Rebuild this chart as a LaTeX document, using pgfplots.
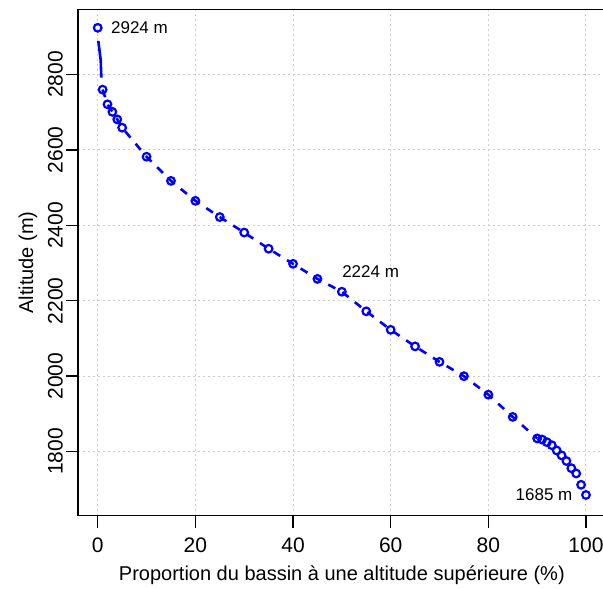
\documentclass[border=0pt]{standalone}
\usepackage{pgfplots}
\pgfplotsset{compat=1.18}
\usepackage{fontspec}
\setmainfont{Liberation Sans}

\definecolor{gridgray}{RGB}{205,205,205}

\begin{document}
\begin{tikzpicture}
  \begin{axis}[
      scale only axis,
      width=263.65pt, height=253.2pt,
      xmin=-4, xmax=104, ymin=1630, ymax=2973,
      xtick={0,20,...,100},
      ytick={1800,2000,...,2800},
      tick align=outside, tick pos=left,
      major tick length=6pt,
      every tick/.style={black, line width=0.7pt},
      axis line style={line width=0.7pt},
      grid=major,
      grid style={gridgray, line width=0.5pt, dash pattern=on 1pt off 1.5pt},
      /pgf/number format/assume math mode=true,
      /pgf/number format/set thousands separator={},
      tick label style={font=\fontsize{10.5}{12}\selectfont},
      xticklabel style={anchor=north, inner sep=5pt},
      yticklabel style={rotate=90, anchor=south, inner sep=1.45pt},
      label style={font=\fontsize{10.5}{12}\selectfont},
      every axis x label/.style={at={([yshift=-30pt]axis description cs:0.5,0)}, anchor=center},
      every axis y label/.style={at={([xshift=-25.1pt]axis description cs:0,0.5)}, anchor=center, rotate=90},
      xlabel={Proportion du bassin à une altitude supérieure (\%)},
      ylabel={Altitude (m)},
    ]
    % steep part near the summit
    \addplot[blue, line width=1.3pt, no marks] coordinates {
      (0.12,2889) (0.61,2838) (0.74,2792)
    };
    % dashed hypsometric curve
    \addplot[blue, line width=1.3pt, dash pattern=on 4pt off 4pt, no marks] coordinates {
      (1,2760) (2,2721) (3,2701) (4,2681) (5,2659)
      (10,2582) (15,2518) (20,2465) (25,2422) (30,2381)
      (35,2338) (40,2298) (45,2258) (50,2224) (55,2172)
      (60,2123) (65,2079) (70,2038) (75,2000) (80,1951)
      (85,1892) (90,1835)
    };
    \addplot[only marks, mark=o, mark size=1.9pt,
             mark options={draw=blue, fill=white, line width=1.1pt}] coordinates {
      (0,2924) (1,2760) (2,2721) (3,2701) (4,2681) (5,2659)
      (10,2582) (15,2518) (20,2465) (25,2422) (30,2381)
      (35,2338) (40,2298) (45,2258) (50,2224) (55,2172)
      (60,2123) (65,2079) (70,2038) (75,2000) (80,1951)
      (85,1892) (90,1835)
    };
    \addplot[only marks, mark=o, mark size=1.9pt,
             mark options={draw=blue, line width=1.1pt}] coordinates {
      (91,1832) (92,1825) (93,1817) (94,1803) (95,1790)
      (96,1775) (97,1756) (98,1742) (99,1712) (100,1685)
    };
    \node[anchor=west, inner sep=0pt, xshift=6.5pt, font=\fontsize{8.5}{10}\selectfont]
      at (axis cs:0,2924) {2924 m};
    \node[anchor=south west, inner sep=0pt, yshift=6.7pt, font=\fontsize{8.5}{10}\selectfont]
      at (axis cs:50,2224) {2224 m};
    \node[anchor=east, inner sep=0pt, xshift=-6.6pt, font=\fontsize{8.5}{10}\selectfont]
      at (axis cs:100,1685) {1685 m};
  \end{axis}
  \pgfresetboundingbox
  \path[use as bounding box] (current axis.south west) ++(-39.1pt,-36.15pt)
    rectangle ([xshift=-1.25pt, yshift=4.65pt]current axis.north east);
\end{tikzpicture}
\end{document}
